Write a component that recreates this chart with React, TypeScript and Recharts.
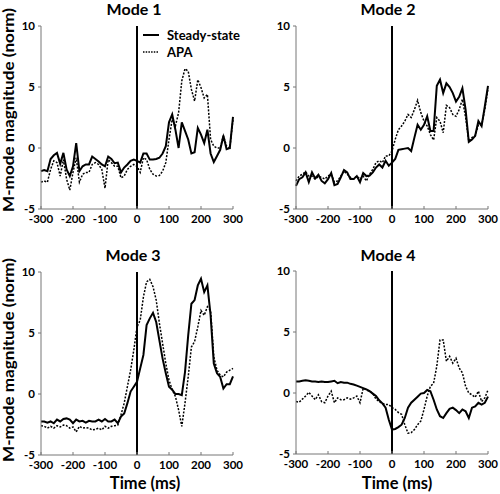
import React from 'react';
import { LineChart, Line, XAxis, YAxis, ReferenceLine, Legend } from 'recharts';

const times = [
  -300, -290, -280, -270, -260, -250, -240, -230, -220, -210,
  -200, -190, -180, -170, -160, -150, -140, -130, -120, -110,
  -100, -90, -80, -70, -60, -50, -40, -30, -20, -10,
  0, 10, 20, 30, 40, 50, 60, 70, 80, 90,
  100, 110, 120, 130, 140, 150, 160, 170, 180, 190,
  200, 210, 220, 230, 240, 250, 260, 270, 280, 290,
  300,
];

const xTicks = [-300, -200, -100, 0, 100, 200, 300];
const yTicks = [-5, 0, 5, 10];

const mode1Steady = [
  -1.9, -1.8, -1.9, -0.9, -0.6, -0.4, -1.3, -0.4, -1.75, -2.3,
  -1.5, 0.4, -1.9, -1.5, -1.35, -1.35, -0.7, -0.9, -1.1, -1.35,
  -1.5, -0.7, -0.9, -1.25, -1.2, -2.0, -1.6, -1.35, -1.05, -0.95,
  -1.05, -1.2, -0.45, -0.45, -0.95, -0.95, -0.9, -0.8, -0.45, 0.15,
  2.1, 2.75, 1.5, 0.0, 2.1, 1.4, 0.7, -0.45, -0.35, 1.65,
  1.1, 0.4, 1.5, -0.45, -1.15, -0.65, -0.15, 1.0, -0.1, 0.0,
  2.55,
];
const mode1Apa = [
  -2.8, -2.7, -2.8, -1.75, -1.05, -1.2, -2.3, -0.95, -2.55, -3.45,
  -2.0, -0.8, -2.8, -2.15, -2.0, -2.0, -1.35, -1.2, -1.35, -1.75,
  -3.3, -0.95, -1.2, -1.5, -1.5, -2.45, -2.3, -1.75, -1.5, -1.35,
  -1.5, -2.0, -0.8, -0.95, -1.75, -2.15, -2.3, -2.25, -1.9, -1.2,
  0.7, 2.35, 1.8, 2.9, 5.5, 6.5, 6.3, 4.8, 3.85, 5.6,
  4.95, 4.1, 4.4, 0.7, 0.15, 0.0, 0.0, 1.0, 0.15, 0.0,
  2.35,
];

const mode2Steady = [
  -3.1, -2.55, -2.4, -2.0, -2.8, -2.0, -2.5, -2.2, -2.7, -2.9,
  -2.55, -2.05, -3.05, -2.95, -2.4, -1.8, -2.0, -2.55, -2.55, -2.3,
  -2.8, -2.05, -2.3, -2.25, -2.0, -1.6, -1.35, -1.6, -1.05, -1.45,
  -1.2, -0.9, -0.15, -0.1, -0.05, 0.0, -0.25, 0.85, 1.9, 1.5,
  1.9, 2.6, 1.4, 1.4, 5.1, 5.6, 4.5, 5.3, 5.0, 4.5,
  3.8, 4.2, 4.9, 3.15, 0.5, 0.7, 1.0, 2.2, 1.8, 3.4,
  5.1,
];
const mode2Apa = [
  -2.7, -2.3, -2.15, -1.95, -2.3, -2.3, -2.55, -2.35, -2.4, -2.55,
  -2.3, -2.15, -2.8, -2.7, -2.3, -1.9, -2.15, -2.4, -2.55, -2.3,
  -2.55, -2.3, -2.7, -2.15, -1.75, -1.2, -1.05, -1.2, -0.65, -0.65,
  -0.25, 0.7, 1.5, 1.8, 2.2, 2.75, 2.5, 3.15, 3.9, 2.9,
  2.2, 1.8, 1.1, 0.65, 2.5, 2.2, 1.25, 3.5, 3.3, 2.75,
  2.6, 3.15, 4.0, 2.5, 0.55, 0.85, 1.0, 1.9, 1.9, 3.15,
  4.9,
];

const mode3Steady = [
  -2.25, -2.25, -2.35, -2.25, -2.4, -2.1, -2.25, -2.05, -2.0, -2.1,
  -2.4, -2.1, -2.25, -2.2, -2.35, -2.2, -2.25, -2.25, -2.1, -2.25,
  -2.05, -2.25, -2.25, -2.1, -2.4, -1.85, -1.6, -0.75, 0.2, 0.6,
  1.0, 2.1, 3.2, 5.65, 6.2, 6.65, 5.9, 4.4, 2.9, 1.7,
  0.6, 0.35, 0.0, 0.0, -0.1, 1.8, 4.8, 7.4, 7.7, 8.9,
  9.45, 8.35, 8.9, 6.45, 2.5, 1.7, 1.4, 0.45, 0.8, 0.8,
  1.45,
];
const mode3Apa = [
  -2.6, -2.65, -2.8, -2.65, -2.8, -2.6, -2.7, -2.55, -2.6, -2.8,
  -2.7, -3.1, -2.65, -2.8, -2.75, -2.8, -2.95, -2.9, -2.8, -2.95,
  -2.65, -2.8, -2.65, -2.6, -2.55, -1.7, -0.75, 0.6, 1.95, 3.6,
  5.5, 6.05, 7.95, 9.2, 9.4, 8.8, 7.7, 5.8, 4.15, 2.5,
  1.15, 0.35, -0.2, -1.3, -2.65, -0.75, 1.4, 3.85, 4.3, 5.5,
  6.85, 6.45, 7.15, 6.85, 3.05, 1.95, 1.55, 1.4, 1.8, 1.95,
  2.1,
];

const mode4Steady = [
  0.95, 0.95, 1.0, 1.05, 1.0, 0.95, 0.95, 0.9, 0.95, 0.9,
  0.9, 0.95, 1.0, 0.8, 0.9, 0.85, 0.85, 0.75, 0.7, 0.6,
  0.5, 0.4, 0.3, 0.15, -0.05, -0.25, -0.6, -0.85, -1.2, -2.2,
  -3.0, -2.95, -2.8, -2.6, -2.05, -1.2, -0.8, -0.55, -0.3, -0.05,
  0.0, 0.25, 0.15, -0.55, -1.35, -1.9, -2.05, -1.65, -1.3, -1.2,
  -1.4, -1.65, -1.35, -1.5, -2.05, -1.2, -1.1, -0.8, -0.95, -0.8,
  -0.3,
];
const mode4Apa = [
  -0.7, -0.75, -0.5, -0.25, 0.05, -0.25, -0.55, -0.15, -0.7, -0.8,
  -0.25, 0.15, -0.8, -0.4, -0.55, -0.55, -0.4, -0.5, -0.4, -0.25,
  -0.8, 0.4, 0.25, 0.15, -0.05, -0.5, -0.7, -0.85, -0.95, -0.95,
  -1.2, -1.35, -1.6, -1.75, -2.6, -3.3, -3.25, -3.0, -2.6, -2.3,
  -1.35, -0.25, 0.55, 0.8, 2.2, 4.35, 4.35, 2.6, 3.0, 2.45,
  2.85, 2.05, 1.65, 0.55, 0.0, -0.15, -0.35, 0.15, -0.7, -0.4,
  0.25,
];

const font = 'Lato, "Open Sans", sans-serif';
const tickStyle = { fontSize: 11.5, fontWeight: 700, fill: '#000', fontFamily: font };

// x ticks in the original point up into the plot, so draw them by hand
function XTick(props: any) {
  const { x, y, payload } = props;
  return (
    <g>
      <line x1={x} y1={y} x2={x} y2={y - 3} stroke="#777" />
      <text x={x} y={y + 6} dy="0.71em" textAnchor="middle" {...tickStyle}>
        {payload.value}
      </text>
    </g>
  );
}

function LegendBox() {
  const row = (dash: string | undefined, label: string) => (
    <div style={{ display: 'flex', alignItems: 'center', height: 17 }}>
      <svg width={16} height={6} style={{ marginRight: 8 }}>
        <line x1={0} y1={3} x2={16} y2={3} stroke="#000" strokeWidth={dash ? 1.5 : 2} strokeDasharray={dash} />
      </svg>
      <span style={{ fontFamily: font, fontWeight: 700, fontSize: 13, color: '#000' }}>{label}</span>
    </div>
  );
  return (
    <div>
      {row(undefined, 'Steady-state')}
      {row('1.5 1.2', 'APA')}
    </div>
  );
}

interface PanelProps {
  steady: number[];
  apa: number[];
  left: number;
  top: number;
  height: number;
  margin: { top: number; right: number; bottom: number; left: number };
  legend?: boolean;
}

function Panel({ steady, apa, left, top, height, margin, legend }: PanelProps) {
  const data = times.map((t, i) => ({ t, steady: steady[i], apa: apa[i] }));
  return (
    <div style={{ position: 'absolute', left, top }}>
      <LineChart width={250} height={height} data={data} margin={margin}>
        <XAxis
          dataKey="t"
          type="number"
          domain={[-300, 300]}
          ticks={xTicks}
          tick={<XTick />}
          tickLine={false}
          tickSize={0}
          tickMargin={0}
          height={20}
          stroke="#777"
          interval={0}
        />
        <YAxis
          type="number"
          domain={[-5, 10]}
          ticks={yTicks}
          tick={tickStyle}
          tickSize={3}
          tickMargin={3}
          width={30}
          stroke="#777"
          interval={0}
        />
        <ReferenceLine x={0} stroke="#000" strokeWidth={2} />
        <Line
          dataKey="apa"
          stroke="#000"
          strokeWidth={1.5}
          strokeDasharray="2 1.5"
          dot={false}
          isAnimationActive={false}
        />
        <Line dataKey="steady" stroke="#000" strokeWidth={2} dot={false} isAnimationActive={false} />
        {legend && (
          <Legend
            layout="vertical"
            align="center"
            verticalAlign="middle"
            wrapperStyle={{ left: 143, top: 26, width: 110 }}
            content={() => <LegendBox />}
          />
        )}
      </LineChart>
    </div>
  );
}

const titleStyle = { fontFamily: font, fontWeight: 700, fontSize: 16 } as const;
const labelStyle = { fontFamily: font, fontWeight: 700, fontSize: 15 } as const;

export default function App() {
  return (
    <div style={{ position: 'absolute', left: 0, top: 0, width: 500, height: 494, background: '#fff' }}>
      <Panel steady={mode1Steady} apa={mode1Apa} left={0} top={0} height={240}
        margin={{ top: 26, right: 17, bottom: 11, left: 11 }} legend />
      <Panel steady={mode2Steady} apa={mode2Apa} left={250} top={0} height={240}
        margin={{ top: 26, right: 12, bottom: 11, left: 16 }} />
      <Panel steady={mode3Steady} apa={mode3Apa} left={0} top={247} height={247}
        margin={{ top: 25, right: 17, bottom: 19, left: 11 }} />
      <Panel steady={mode4Steady} apa={mode4Apa} left={250} top={247} height={247}
        margin={{ top: 24, right: 12, bottom: 20, left: 16 }} />
      <svg width={500} height={494} style={{ position: 'absolute', left: 0, top: 0, pointerEvents: 'none' }}>
        <text x={134} y={15} textAnchor="middle" style={titleStyle}>Mode 1</text>
        <text x={388} y={15} textAnchor="middle" style={titleStyle}>Mode 2</text>
        <text x={133} y={261} textAnchor="middle" style={titleStyle}>Mode 3</text>
        <text x={388} y={261} textAnchor="middle" style={titleStyle}>Mode 4</text>
        <text x={145} y={489} textAnchor="middle" style={{ ...titleStyle, fontSize: 16.5 }}>Time (ms)</text>
        <text x={397} y={489} textAnchor="middle" style={{ ...titleStyle, fontSize: 16.5 }}>Time (ms)</text>
        <text transform="translate(13.5,110) rotate(-90)" textAnchor="middle" textLength={204}
          lengthAdjust="spacingAndGlyphs" style={labelStyle}>M-mode magnitude (norm)</text>
        <text transform="translate(13.5,360) rotate(-90)" textAnchor="middle" textLength={204}
          lengthAdjust="spacingAndGlyphs" style={labelStyle}>M-mode magnitude (norm)</text>
      </svg>
    </div>
  );
}
